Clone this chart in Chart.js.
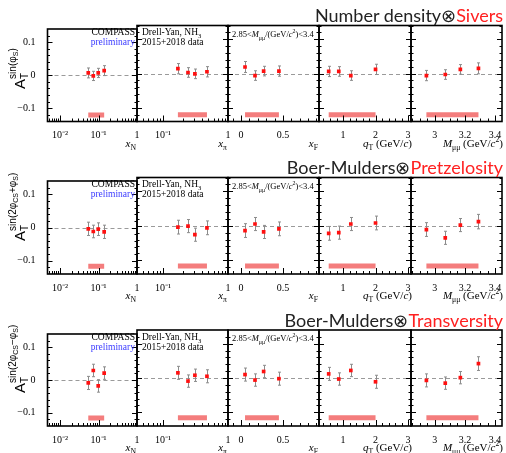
<!DOCTYPE html>
<html>
<head>
<meta charset="utf-8">
<script src="https://cdn.jsdelivr.net/npm/chart.js@4.4.1/dist/chart.umd.min.js"></script>
<style>
  html, body { margin: 0; padding: 0; background: #fff; }
  #wrap { position: relative; width: 506px; height: 453px; overflow: hidden; background: #fff; }
  canvas { position: absolute; }
  .t { position: absolute; white-space: nowrap; font-family: 'Liberation Serif', serif; color: #000; line-height: 1; }
  .t sub, .t sup { font-size: 70%; line-height: 0; }
  .title { position: absolute; right: 3px; white-space: nowrap; font-family: 'Lato', sans-serif; font-size: 18px; line-height: 1; color: #222; }
  .title .red { color: #ff2020; }
  .ylab { position: absolute; white-space: nowrap; transform: rotate(-90deg); transform-origin: 0 0;
          font-family: 'Liberation Sans', sans-serif; font-size: 15px; line-height: 24px; height: 24px; color: #000; }
  .ylab .sb { font-size: 10px; vertical-align: -3px; line-height: 0; }
  .ylab .sp { font-size: 10px; vertical-align: 9px; line-height: 0; margin-left: -6px; }
  .ylab .sp sub { font-size: 7px; vertical-align: -2px; line-height: 0; }
</style>
</head>
<body>
<div id="wrap"></div>
<script>
'use strict';

/* Bin centres (same binning in all three rows) */
const xN = [0.054, 0.073, 0.098, 0.14];
const xPi = [0.17, 0.243, 0.31, 0.475];
const xF = [0.048, 0.167, 0.27, 0.452];
const qT = [0.56, 0.87, 1.24, 2.0];
const mMuMu = [2.945, 3.07, 3.17, 3.29];

/* Asymmetries, one inner array per panel: x_N, x_pi, x_F, q_T, M */
const siversVal = [
  [0.007, -0.002, 0.007, 0.014],
  [0.014, 0.003, -0.001, 0.005],
  [0.019, -0.006, 0.007, 0.007],
  [0.006, 0.006, -0.006, 0.012],
  [-0.006, -0.003, 0.012, 0.015],
];
const siversErr = [
  [0.015, 0.014, 0.014, 0.015],
  [0.015, 0.014, 0.014, 0.015],
  [0.016, 0.014, 0.014, 0.015],
  [0.015, 0.014, 0.014, 0.015],
  [0.015, 0.014, 0.014, 0.016],
];
const pretzelVal = [
  [-0.004, -0.012, -0.005, -0.013],
  [-0.004, -0.001, -0.026, -0.006],
  [-0.014, 0.005, -0.018, -0.009],
  [-0.022, -0.020, 0.005, 0.008],
  [-0.011, -0.035, 0.002, 0.012],
];
const pretzelErr = [
  [0.020, 0.019, 0.019, 0.020],
  [0.020, 0.019, 0.019, 0.020],
  [0.020, 0.019, 0.019, 0.020],
  [0.020, 0.019, 0.019, 0.020],
  [0.020, 0.019, 0.019, 0.021],
];
const transvVal = [
  [-0.009, 0.029, -0.018, 0.021],
  [0.015, -0.009, 0.008, 0.005],
  [0.010, -0.006, 0.019, -0.002],
  [0.012, -0.003, 0.022, -0.011],
  [-0.007, -0.015, 0.001, 0.042],
];
const transvErr = [
  [0.020, 0.019, 0.019, 0.019],
  [0.019, 0.018, 0.018, 0.019],
  [0.019, 0.018, 0.018, 0.019],
  [0.019, 0.018, 0.018, 0.019],
  [0.019, 0.018, 0.018, 0.020],
];
/* Systematic band level per row */
const sysBandY = [-0.12, -0.117, -0.116];

/* Ticks */
const yTicks = [-0.14, -0.12, -0.1, -0.08, -0.06, -0.04, -0.02, 0, 0.02, 0.04, 0.06, 0.08, 0.1, 0.12, 0.14];
const yLabels = [[-0.1, '\u22120.1'], [0, '0'], [0.1, '0.1']];
const xNTicks = [0.005, 0.006, 0.007, 0.008, 0.009, 0.01, 0.02, 0.03, 0.04, 0.05, 0.06, 0.07, 0.08, 0.09,
  0.1, 0.2, 0.3, 0.4, 0.5, 0.6, 0.7, 0.8, 0.9, 1];
const xNLabels = [[0.01, '10\u207B\u00B2'], [0.1, '10\u207B\u00B9'], [1, '1']];
const xPiTicks = [0.04, 0.05, 0.06, 0.07, 0.08, 0.09, 0.1, 0.2, 0.3, 0.4, 0.5, 0.6, 0.7, 0.8, 0.9, 1];
const xPiLabels = [[0.1, '10\u207B\u00B9'], [1, '1']];
const xFTicks = [-0.1, 0, 0.1, 0.2, 0.3, 0.4, 0.5, 0.6, 0.7, 0.8, 0.9];
const xFLabels = [[0, '0'], [0.5, '0.5']];
const qTTicks = [0.4, 0.6, 0.8, 1, 1.2, 1.4, 1.6, 1.8, 2, 2.2, 2.4, 2.6, 2.8, 3];
const qTLabels = [[1, '1'], [2, '2'], [3, '3']];
const mTicks = [2.85, 2.9, 2.95, 3, 3.05, 3.1, 3.15, 3.2, 3.25, 3.3, 3.35, 3.4];
const mLabels = [[3, '3'], [3.2, '3.2'], [3.4, '3.4']];

/* Panel geometry */
const COL_EDGES = [47.5, 137, 228, 319, 411, 503];
const ROW_TOP = [25.5, 177.5, 330];
const ROW_BOTTOM = [121.5, 274, 426];
const X_AXIS_H = 26;

const columns = [
  { type: 'logarithmic', min: 0.0047, max: 1, centers: xN, ticks: xNTicks, labels: xNLabels },
  { type: 'logarithmic', min: 0.04, max: 1, centers: xPi, ticks: xPiTicks, labels: xPiLabels },
  { type: 'linear', min: -0.155, max: 0.93, centers: xF, ticks: xFTicks, labels: xFLabels },
  { type: 'linear', min: 0.262, max: 3.09, centers: qT, ticks: qTTicks, labels: qTLabels },
  { type: 'linear', min: 2.843, max: 3.446, centers: mMuMu, ticks: mTicks, labels: mLabels },
];
const rows = [
  { vals: siversVal, errs: siversErr },
  { vals: pretzelVal, errs: pretzelErr },
  { vals: transvVal, errs: transvErr },
];

function labelFor(list, value) {
  const hit = list.find(([v]) => Math.abs(v - value) < 1e-9);
  return hit ? hit[1] : '';
}

/* Frame, inward ticks, dashed zero line and error bars */
const framePlugin = {
  id: 'frame',
  beforeDatasetsDraw(chart) {
    const { ctx, chartArea: a, scales: { y } } = chart;
    ctx.save();
    ctx.strokeStyle = '#9a9a9a';
    ctx.lineWidth = 1;
    ctx.setLineDash([4, 3]);
    const y0 = Math.round(y.getPixelForValue(0)) + 0.5;
    ctx.beginPath();
    ctx.moveTo(a.left, y0);
    ctx.lineTo(a.right, y0);
    ctx.stroke();
    ctx.setLineDash([]);

    chart.data.datasets.forEach((ds, i) => {
      if (!ds.errors) return;
      const meta = chart.getDatasetMeta(i);
      ctx.strokeStyle = '#8c8c8c';
      meta.data.forEach((pt, j) => {
        const v = ds.data[j].y;
        const e = ds.errors[j];
        const px = Math.round(pt.x) + 0.5;
        const yt = y.getPixelForValue(v + e);
        const yb = y.getPixelForValue(v - e);
        ctx.beginPath();
        ctx.moveTo(px, yt);
        ctx.lineTo(px, yb);
        ctx.moveTo(px - 1.5, yt);
        ctx.lineTo(px + 1.5, yt);
        ctx.moveTo(px - 1.5, yb);
        ctx.lineTo(px + 1.5, yb);
        ctx.stroke();
      });
    });
    ctx.restore();
  },
  afterDatasetsDraw(chart, args, opts) {
    const { ctx, chartArea: a, scales: { x, y } } = chart;
    ctx.save();
    ctx.strokeStyle = '#000';
    ctx.lineWidth = 1;
    ctx.beginPath();
    opts.xTicks.forEach((v) => {
      const px = Math.round(x.getPixelForValue(v)) + 0.5;
      if (px < a.left + 1 || px > a.right - 1) return;
      const len = labelFor(opts.xLabels, v) ? 6 : 3;
      ctx.moveTo(px, a.bottom);
      ctx.lineTo(px, a.bottom - len);
    });
    yTicks.forEach((v) => {
      const py = Math.round(y.getPixelForValue(v)) + 0.5;
      if (py < a.top + 1 || py > a.bottom - 1) return;
      const len = labelFor(yLabels, v) ? 5 : 2.5;
      ctx.moveTo(a.left, py);
      ctx.lineTo(a.left + len, py);
      ctx.moveTo(a.right, py);
      ctx.lineTo(a.right - len, py);
    });
    ctx.stroke();
    ctx.lineWidth = 1.6;
    ctx.strokeRect(a.left, a.top, a.right - a.left, a.bottom - a.top);
    ctx.restore();
  },
};

const wrap = document.getElementById('wrap');
const tickFont = { family: "'Liberation Serif', serif", size: 10 };

function makePanel(r, c) {
  const col = columns[c];
  const row = rows[r];
  const boxL = COL_EDGES[c];
  const boxR = COL_EDGES[c + 1];
  const left = c === 0 ? 0 : Math.floor(boxL - 12);
  const right = Math.min(506, Math.ceil(boxR + 12));
  const top = Math.floor(ROW_TOP[r] - 6);
  const width = right - left;
  const height = Math.ceil(ROW_BOTTOM[r] + X_AXIS_H + 3) - top;

  const canvas = document.createElement('canvas');
  canvas.width = width;
  canvas.height = height;
  canvas.style.left = left + 'px';
  canvas.style.top = top + 'px';
  canvas.style.width = width + 'px';
  canvas.style.height = height + 'px';
  wrap.appendChild(canvas);

  const pts = col.centers.map((xv, i) => ({ x: xv, y: row.vals[c][i] }));
  const n = col.centers.length;

  const yScale = {
    display: c === 0,
    min: -0.14,
    max: 0.14,
    bounds: 'data',
    grid: { display: false },
    border: { display: false },
    afterBuildTicks: (s) => { s.ticks = yTicks.map((v) => ({ value: v })); },
    ticks: {
      autoSkip: false,
      padding: 4,
      color: '#000',
      font: tickFont,
      callback: (v) => labelFor(yLabels, v),
    },
  };
  if (c === 0) yScale.afterFit = (s) => { s.width = COL_EDGES[0]; };

  new Chart(canvas, {
    type: 'scatter',
    data: {
      datasets: [
        {
          data: [{ x: col.centers[0], y: sysBandY[r] }, { x: col.centers[n - 1], y: sysBandY[r] }],
          showLine: true,
          borderColor: '#f47d7d',
          borderWidth: 5,
          borderCapStyle: 'butt',
          pointRadius: 0,
        },
        {
          data: pts,
          errors: row.errs[c],
          pointStyle: 'rect',
          pointRadius: 2.6,
          backgroundColor: '#ff1010',
          borderWidth: 0,
        },
      ],
    },
    options: {
      responsive: false,
      animation: false,
      devicePixelRatio: 1,
      events: [],
      layout: {
        padding: {
          left: c === 0 ? 0 : boxL - left,
          right: right - boxR,
          top: ROW_TOP[r] - top,
          bottom: height - (ROW_BOTTOM[r] - top) - X_AXIS_H,
        },
      },
      plugins: {
        legend: { display: false },
        tooltip: { enabled: false },
        frame: { xTicks: col.ticks, xLabels: col.labels },
      },
      scales: {
        x: {
          type: col.type,
          min: col.min,
          max: col.max,
          bounds: 'data',
          grid: { display: false },
          border: { display: false },
          afterBuildTicks: (s) => { s.ticks = col.ticks.map((v) => ({ value: v })); },
          afterFit: (s) => { s.height = X_AXIS_H; },
          ticks: {
            autoSkip: false,
            maxRotation: 0,
            minRotation: 0,
            padding: 0,
            color: '#000',
            font: tickFont,
            callback: (v) => labelFor(col.labels, v),
          },
        },
        y: yScale,
      },
    },
    plugins: [framePlugin],
  });
}

for (let r = 0; r < 3; r++) {
  for (let c = 0; c < 5; c++) makePanel(r, c);
}

/* Text overlays */
function addText(html, cls, style) {
  const d = document.createElement('div');
  d.className = cls;
  d.innerHTML = html;
  Object.assign(d.style, style);
  wrap.appendChild(d);
  return d;
}

const titles = [
  'Number density\u2297<span class="red">Sivers</span>',
  'Boer-Mulders\u2297<span class="red">Pretzelosity</span>',
  'Boer-Mulders\u2297<span class="red">Transversity</span>',
];
const yTitles = [
  'A<span class="sb">T</span><span class="sp">sin(\u03C6<sub>S</sub>)</span>',
  'A<span class="sb">T</span><span class="sp">sin(2\u03C6<sub>CS</sub>+\u03C6<sub>S</sub>)</span>',
  'A<span class="sb">T</span><span class="sp">sin(2\u03C6<sub>CS</sub>\u2212\u03C6<sub>S</sub>)</span>',
];
const xTitles = [
  ['<i>x</i><sub>N</sub>', 370],
  ['<i>x</i><sub>\u03C0</sub>', 279],
  ['<i>x</i><sub>F</sub>', 188],
  ['<i>q</i><sub>T</sub> (GeV/<i>c</i>)', 94],
  ['<i>M</i><sub>\u03BC\u03BC</sub> (GeV/<i>c</i><sup>2</sup>)', 3],
];

for (let r = 0; r < 3; r++) {
  const t = ROW_TOP[r];
  const b = ROW_BOTTOM[r];
  addText(titles[r], 'title', { top: (t - 19.5) + 'px' });
  addText(yTitles[r], 'ylab', { left: '8px', top: (t + 63) + 'px' });
  addText('COMPASS', 't', { right: (506 - 135) + 'px', top: (t + 2.5) + 'px', fontSize: '9.5px' });
  addText('preliminary', 't', { right: (506 - 135) + 'px', top: (t + 12.5) + 'px', fontSize: '9.5px', color: '#3a3aff' });
  addText('Drell-Yan, NH<sub>3</sub>', 't', { left: '142px', top: (t + 2.5) + 'px', fontSize: '9.5px' });
  addText('2015+2018 data', 't', { left: '142px', top: (t + 12.5) + 'px', fontSize: '9.5px' });
  addText('2.85&lt;<i>M</i><sub>\u03BC\u03BC</sub>/(GeV/<i>c</i><sup>2</sup>)&lt;3.4', 't',
    { left: '232px', top: (t + 4) + 'px', fontSize: '8.5px' });
  xTitles.forEach(([html, rgt]) => {
    addText(html, 't', { right: rgt + 'px', top: (b + 16) + 'px', fontSize: '11px' });
  });
}
</script>
</body>
</html>
